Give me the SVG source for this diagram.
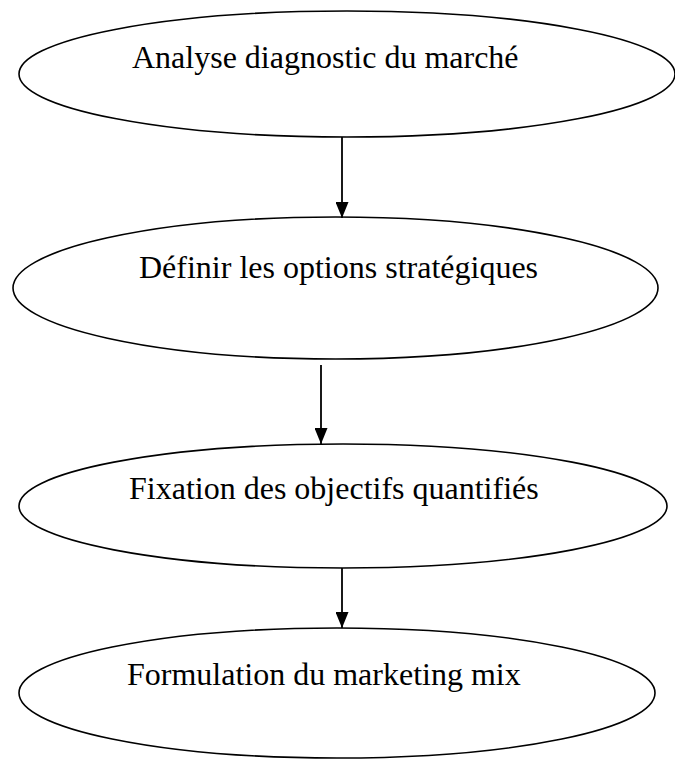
<svg xmlns="http://www.w3.org/2000/svg" width="675" height="760" viewBox="0 0 675 760">
<style>
.node ellipse{fill:#fff;stroke:#000;stroke-width:1.6}
.node text{font-family:"Liberation Serif","Times New Roman",serif;font-size:32px;fill:#000}
.conn line{stroke:#000;stroke-width:1.8}
</style>
<defs>
<marker id="ah" markerWidth="16" markerHeight="13" refX="16" refY="6.5" orient="auto" markerUnits="userSpaceOnUse" viewBox="0 0 16 13">
<path d="M0,0 L16,6.5 L0,13 Z" fill="#000"/>
</marker>
</defs>
<rect width="675" height="760" fill="#fff"/>
<g id="n1" class="node"><ellipse cx="347" cy="74" rx="328" ry="63"/><text x="132" y="68">Analyse diagnostic du marché</text></g>
<g id="n2" class="node"><ellipse cx="335.5" cy="288" rx="322.5" ry="71"/><text x="139" y="278">Définir les options stratégiques</text></g>
<g id="n3" class="node"><ellipse cx="343" cy="506" rx="324" ry="62"/><text x="129" y="499">Fixation des objectifs quantifiés</text></g>
<g id="n4" class="node"><ellipse cx="337" cy="693" rx="318" ry="65"/><text x="127" y="685">Formulation du marketing mix</text></g>
<g id="connectors" class="conn">
<line x1="342" y1="137" x2="342" y2="218" marker-end="url(#ah)"/>
<line x1="321" y1="365" x2="321" y2="444" marker-end="url(#ah)"/>
<line x1="342" y1="568" x2="342" y2="628" marker-end="url(#ah)"/>
</g>
</svg>
